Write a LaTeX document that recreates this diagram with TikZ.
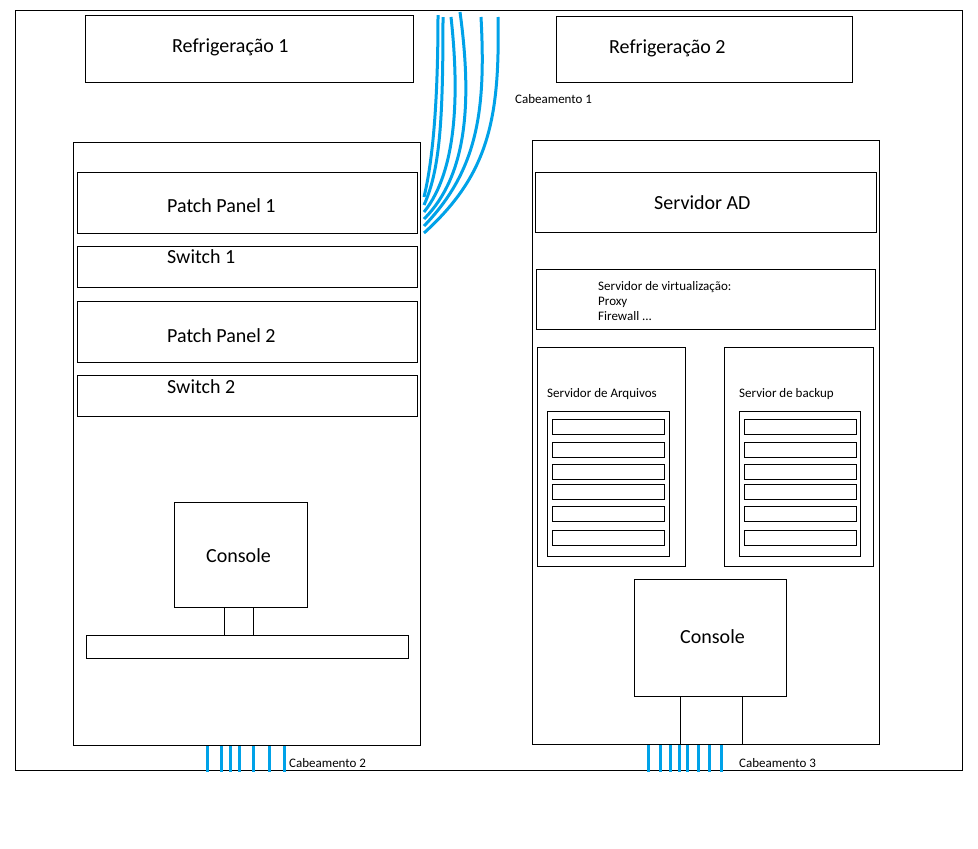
\documentclass[tikz,border=0pt]{standalone}
\usepackage{fontspec}
\setmainfont{Carlito}
\usetikzlibrary{positioning}

\definecolor{azulcabo}{RGB}{0,162,232}

\tikzset{
    caixa/.style={draw, rectangle, line width=1.3pt, anchor=north west, inner sep=0pt},
    rotulo/.style={anchor=base west, inner sep=0pt, font=\fontsize{20}{24}\selectfont},
    rotulopeq/.style={anchor=base west, inner sep=0pt, font=\fontsize{13}{15}\selectfont},
    cabo/.style={draw=azulcabo, line width=3pt}
}

\begin{document}
\begin{tikzpicture}[x=1pt, y=-1pt]
        \useasboundingbox (0,0) rectangle (978,849);

        % sala
        \node[caixa, minimum width=947, minimum height=760] at (15,10)(sala){};
        \node[caixa, minimum width=328, minimum height=67] at (85,15)(ref1){};
        \node[caixa, minimum width=296, minimum height=66] at (556,16)(ref2){};
        \node[rotulo] at (172,52)(tref1){Refrigeração 1};
        \node[rotulo] at (609,53)(tref2){Refrigeração 2};

        % rack da esquerda
        \node[caixa, minimum width=347, minimum height=603] at (73,142)(rackL){};
        \node[caixa, minimum width=340, minimum height=61] at (77,172)(pp1){};
        \node[caixa, minimum width=340, minimum height=41] at (77,246)(sw1){};
        \node[caixa, minimum width=340, minimum height=61] at (77,301)(pp2){};
        \node[caixa, minimum width=340, minimum height=41] at (77,375)(sw2){};
        \node[rotulo] at (167,212)(tpp1){Patch Panel 1};
        \node[rotulo] at (167,263)(tsw1){Switch 1};
        \node[rotulo] at (167,342)(tpp2){Patch Panel 2};
        \node[rotulo] at (167,393)(tsw2){Switch 2};
        \node[caixa, minimum width=133, minimum height=105] at (174,502)(consL){};
        \node[caixa, minimum width=29, minimum height=28] at (224,607)(pescL){};
        \node[caixa, minimum width=322, minimum height=23] at (86,635)(tecL){};
        \node[rotulo] at (206,562)(tconsL){Console};

        % rack da direita
        \node[caixa, minimum width=347, minimum height=604] at (532,140)(rackR){};
        \node[caixa, minimum width=341, minimum height=60] at (535,172)(ad){};
        \node[rotulo] at (654,209)(tad){Servidor AD};
        \node[caixa, minimum width=339, minimum height=60] at (536,269)(virt){};
        \node[rotulopeq] at (598,290)(tvirt1){Servidor de virtualização:};
        \node[rotulopeq] at (598,305)(tvirt2){Proxy};
        \node[rotulopeq] at (598,320)(tvirt3){Firewall ...};
        \node[caixa, minimum width=148, minimum height=219] at (537,347)(arq){};
        \node[caixa, minimum width=122, minimum height=145] at (547,411)(arqin){};
        \node[caixa, minimum width=149, minimum height=219] at (724,347)(bkp){};
        \node[caixa, minimum width=121, minimum height=145] at (739,411)(bkpin){};
        \node[rotulopeq] at (547,397)(tarq){Servidor de Arquivos};
        \node[rotulopeq] at (739,397)(tbkp){Servior de backup};
        \foreach \y [count=\i] in {419,442,464,484,506,530}{
            \node[caixa, minimum width=112, minimum height=15] at (552,\y)(discoA\i){};
            \node[caixa, minimum width=112, minimum height=15] at (744,\y)(discoB\i){};
        }
        \node[caixa, minimum width=152, minimum height=117] at (634,579)(consR){};
        \node[caixa, minimum width=62, minimum height=48] at (680,696)(pescR){};
        \node[rotulo] at (680,643)(tconsR){Console};

        % cabeamento
        \foreach \xa/\ya/\ca/\cb/\cc/\cd/\ye in {
            438/15/438/100/433/160/197,
            443/17/443/120/440/170/205,
            451/17/459/90/458/170/212,
            460/12/472/100/468/175/219,
            481/17/486/110/478/170/226,
            498/17/500/120/488/175/233}{
            \path[cabo] (\xa,\ya) .. controls (\ca,\cb) and (\cc,\cd) .. (424,\ye);
        }
        \foreach \x in {207,221,230,239,253,269,284}{
            \path[cabo] (\x,0 |- rackL.south) -- (\x,772);
        }
        \foreach \x in {648,660,670,679,687,698,709,721}{
            \path[cabo] (\x,0 |- rackR.south) -- (\x,772);
        }
        \node[rotulopeq] at (515,103)(tcab1){Cabeamento 1};
        \node[rotulopeq] at (289,767)(tcab2){Cabeamento 2};
        \node[rotulopeq] at (739,767)(tcab3){Cabeamento 3};
    \end{tikzpicture}
\end{document}
